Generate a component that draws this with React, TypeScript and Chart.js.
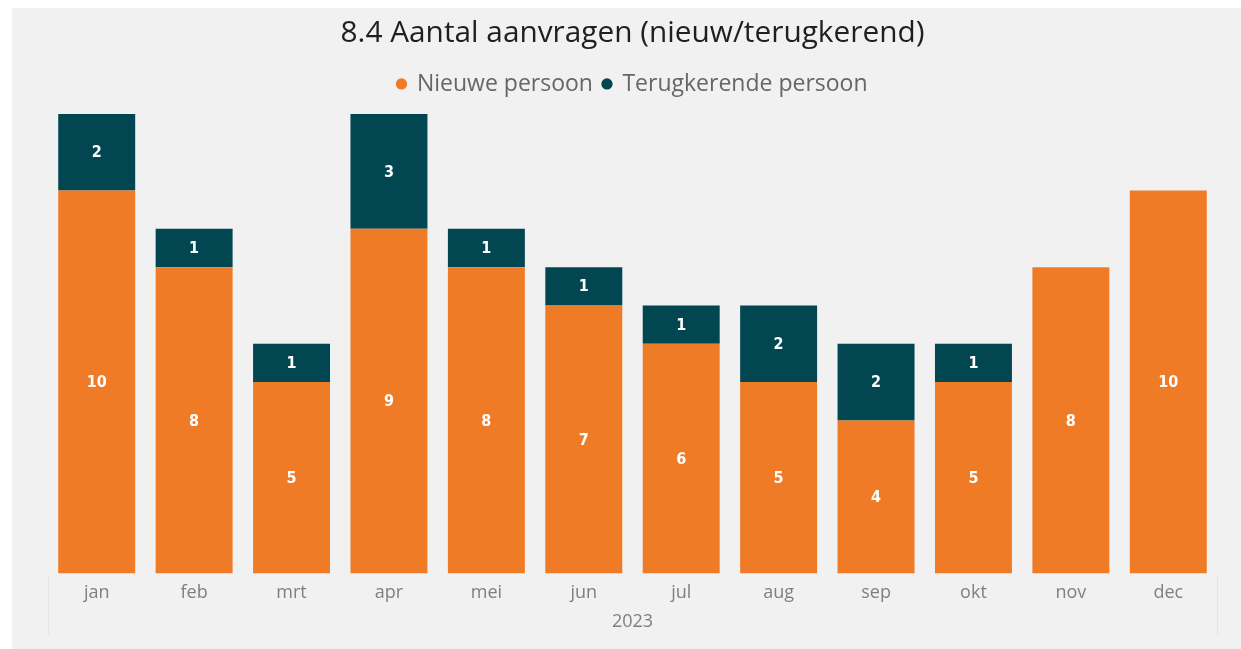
import React, { useEffect, useRef } from "react";
import { Chart, registerables } from "chart.js";

Chart.register(...registerables);

const titleText = "8.4 Aantal aanvragen (nieuw/terugkerend)";
const months = ["jan", "feb", "mrt", "apr", "mei", "jun", "jul", "aug", "sep", "okt", "nov", "dec"];
const yearLabel = "2023";
const seriesNames = ["Nieuwe persoon", "Terugkerende persoon"];
const newPersons = [10, 8, 5, 9, 8, 7, 6, 5, 4, 5, 8, 10];
const returningPersons = [2, 1, 1, 3, 1, 1, 1, 2, 2, 1, 0, 0];
const seriesColors = ["#F07B26", "#014651"];

const FONT = "'Open Sans', 'Noto Sans', sans-serif";

const labelPlugin = {
  id: "segmentLabels",
  afterDatasetsDraw(chart: any) {
    const ctx = chart.ctx;
    ctx.save();
    ctx.fillStyle = "#ffffff";
    ctx.font = "bold 16px 'DejaVu Sans Condensed', 'DejaVu Sans', sans-serif";
    ctx.textAlign = "center";
    ctx.textBaseline = "middle";
    chart.data.datasets.forEach((ds: any, i: number) => {
      const meta = chart.getDatasetMeta(i);
      meta.data.forEach((el: any, j: number) => {
        const v = ds.data[j];
        if (!v) return;
        ctx.fillText(String(v), el.x, (el.y + el.base) / 2 + 1);
      });
    });
    ctx.restore();
  },
};

const framePlugin = {
  id: "groupFrame",
  afterDraw(chart: any) {
    const { ctx, chartArea } = chart;
    ctx.save();
    ctx.strokeStyle = "#e4e4e4";
    ctx.lineWidth = 1;
    [chartArea.left, chartArea.right].forEach((x: number) => {
      const xx = Math.round(x) + 0.5;
      ctx.beginPath();
      ctx.moveTo(xx, chartArea.bottom + 2);
      ctx.lineTo(xx, chartArea.bottom + 61);
      ctx.stroke();
    });
    ctx.restore();
  },
};

const legendSpacePlugin = {
  id: "legendSpace",
  afterInit(chart: any) {
    const legend = chart.legend;
    if (!legend || legend._patched) return;
    const orig = legend.fit;
    legend.fit = function () {
      orig.call(this);
      this.height += 8.5;
    };
    legend._patched = true;
  },
};

export default function App() {
  const ref = useRef<HTMLCanvasElement | null>(null);

  useEffect(() => {
    if (!ref.current) return;
    const chart = new Chart(ref.current, {
      type: "bar",
      data: {
        labels: months,
        datasets: [
          {
            label: seriesNames[0],
            data: newPersons,
            backgroundColor: seriesColors[0],
            categoryPercentage: 1,
            barPercentage: 0.79,
          },
          {
            label: seriesNames[1],
            data: returningPersons,
            backgroundColor: seriesColors[1],
            categoryPercentage: 1,
            barPercentage: 0.79,
          },
        ],
      },
      options: {
        animation: false,
        responsive: true,
        maintainAspectRatio: false,
        layout: { padding: { left: 36, right: 24, top: 0, bottom: 0 } },
        plugins: {
          title: {
            display: true,
            text: titleText,
            color: "#1f1f1f",
            font: { family: FONT, size: 29.8, weight: "normal" },
            padding: { top: 8, bottom: 10.7 },
          },
          legend: {
            display: true,
            position: "top",
            labels: {
              usePointStyle: true,
              pointStyle: "circle",
              boxWidth: 8,
              boxHeight: 8,
              padding: 10,
              color: "#666666",
              font: { family: FONT, size: 23 },
            },
          },
          tooltip: { enabled: false },
        },
        scales: {
          x: {
            stacked: true,
            grid: { display: false, drawTicks: false },
            border: { display: false },
            ticks: {
              color: "#7f7f7f",
              font: { family: FONT, size: 18 },
              padding: 8,
            },
            title: {
              display: true,
              text: yearLabel,
              color: "#7f7f7f",
              font: { family: FONT, size: 18 },
              padding: { top: 0, bottom: 16.2 },
            },
          },
          y: {
            stacked: true,
            display: false,
            min: 0,
            max: 12,
          },
        },
      },
      plugins: [labelPlugin, framePlugin, legendSpacePlugin],
    });
    return () => chart.destroy();
  }, []);

  return (
    <div
      style={{
        position: "fixed",
        left: 12,
        top: 8,
        width: 1229,
        height: 641,
        background: "#f1f1f1",
      }}
    >
      <canvas ref={ref} />
    </div>
  );
}
